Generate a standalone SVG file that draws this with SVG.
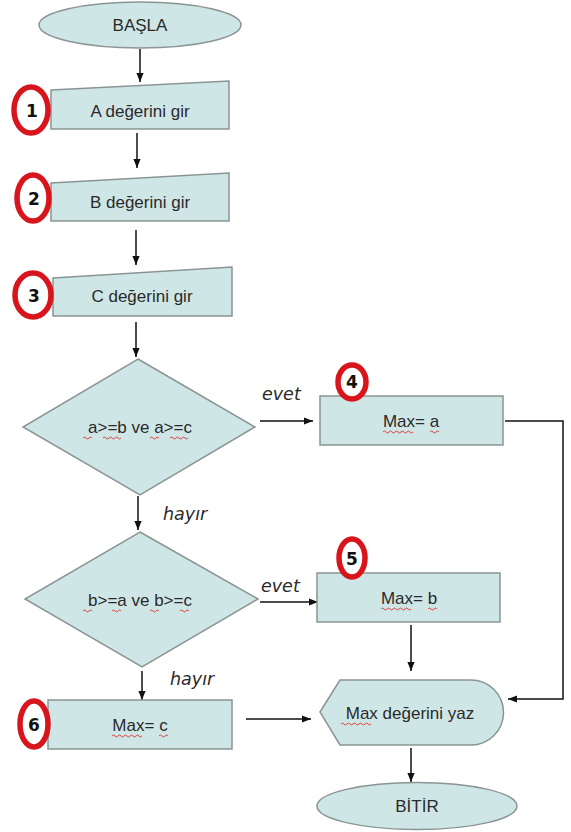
<svg xmlns="http://www.w3.org/2000/svg" width="571" height="832" viewBox="0 0 571 832">
<defs>
<marker id="ah" viewBox="0 0 10 10" refX="10" refY="5" markerWidth="9" markerHeight="9" markerUnits="userSpaceOnUse" orient="auto"><path d="M0,1 L10,5 L0,9 Z" fill="#111"/></marker>
<style>
.s{fill:#cfe6e6;stroke:#8a9494;stroke-width:1.5}
.t{font-family:"Liberation Sans",Arial,sans-serif;font-size:17px;fill:#2a2a2a;text-anchor:middle;dominant-baseline:central}
.l{font-family:"DejaVu Sans",sans-serif;font-size:17.5px;font-style:italic;fill:#2a2a2a}
.c{fill:#fff;stroke:#d8141c;stroke-width:5.5}
.n{font-family:"DejaVu Sans",sans-serif;font-weight:bold;font-size:17px;fill:#111;text-anchor:middle;dominant-baseline:central}
.e{fill:none;stroke:#111;stroke-width:1.5}
.w{fill:none;stroke:#e03030;stroke-width:0.9}
</style>
</defs>
<rect width="571" height="832" fill="#fff"/>
<g id="connectors">
<path class="e" d="M140,49 L140,82" marker-end="url(#ah)"/>
<path class="e" d="M137,133 L137,168" marker-end="url(#ah)"/>
<path class="e" d="M136,230 L136,265" marker-end="url(#ah)"/>
<path class="e" d="M136,322 L136,357" marker-end="url(#ah)"/>
<path class="e" d="M260,421 L313,421" marker-end="url(#ah)"/>
<path class="e" d="M138,496 L138,530" marker-end="url(#ah)"/>
<path class="e" d="M260,602 L318,602" marker-end="url(#ah)"/>
<path class="e" d="M142,671 L142,700" marker-end="url(#ah)"/>
<path class="e" d="M505,421 L563,421 L563,699 L508,699" marker-end="url(#ah)"/>
<path class="e" d="M411,625 L411,671" marker-end="url(#ah)"/>
<path class="e" d="M246,719 L311,719" marker-end="url(#ah)"/>
<path class="e" d="M411,748 L411,782" marker-end="url(#ah)"/>
<text class="l" x="262" y="400">evet</text>
<text class="l" x="163" y="520">hayır</text>
<text class="l" x="261" y="592">evet</text>
<text class="l" x="170" y="685">hayır</text>
</g>
<g id="start">
<ellipse class="s" cx="140" cy="25" rx="101" ry="23"/>
<text class="t" x="140" y="25">BAŞLA</text>
</g>
<g id="input-a">
<path class="s" d="M51,90 L229,81 L229,129 L51,129 Z"/>
<text class="t" x="140" y="111">A değerini gir</text>
</g>
<g id="input-b">
<path class="s" d="M51,183 L229,173 L229,221 L51,221 Z"/>
<text class="t" x="140" y="202">B değerini gir</text>
</g>
<g id="input-c">
<path class="s" d="M53,278 L232,267 L232,316 L53,316 Z"/>
<text class="t" x="142" y="296">C değerini gir</text>
</g>
<g id="decision-a">
<path class="s" d="M138,359 L255,427 L140,495 L23,427 Z"/>
<text class="t" x="140" y="427">a&gt;=b ve a&gt;=c</text>
<path class="w" d="M83,438 q1.5,-2 3,0 t3,0 t3,0"/>
<path class="w" d="M103,438 q1.5,-2 3,0 t3,0 t3,0 t3,0 t3,0 t3,0"/>
<path class="w" d="M150,438 q1.5,-2 3,0 t3,0 t3,0"/>
<path class="w" d="M170,438 q1.5,-2 3,0 t3,0 t3,0 t3,0 t3,0 t3,0"/>
</g>
<g id="max-a">
<rect class="s" x="320" y="396" width="183" height="49"/>
<text class="t" x="411" y="421">Max= a</text>
<path class="w" d="M383,432 q1.5,-2 3,0 t3,0 t3,0 t3,0 t3,0 t3,0 t3,0 t3,0 t3,0 t3,0"/>
<path class="w" d="M430,432 q1.5,-2 3,0 t3,0 t3,0"/>
</g>
<g id="decision-b">
<path class="s" d="M140,532 L258,599 L142,667 L25,599 Z"/>
<text class="t" x="140" y="600">b&gt;=a ve b&gt;=c</text>
<path class="w" d="M83,611 q1.5,-2 3,0 t3,0 t3,0"/>
<path class="w" d="M112,611 q1.5,-2 3,0 t3,0 t3,0"/>
<path class="w" d="M150,611 q1.5,-2 3,0 t3,0 t3,0"/>
<path class="w" d="M180,611 q1.5,-2 3,0 t3,0 t3,0"/>
</g>
<g id="max-b">
<rect class="s" x="317" y="573" width="183" height="49"/>
<text class="t" x="409" y="598">Max= b</text>
<path class="w" d="M381,609 q1.5,-2 3,0 t3,0 t3,0 t3,0 t3,0 t3,0 t3,0 t3,0 t3,0 t3,0"/>
<path class="w" d="M428,609 q1.5,-2 3,0 t3,0 t3,0"/>
</g>
<g id="max-c">
<rect class="s" x="48" y="700" width="184" height="49"/>
<text class="t" x="140" y="725">Max= c</text>
<path class="w" d="M112,736 q1.5,-2 3,0 t3,0 t3,0 t3,0 t3,0 t3,0 t3,0 t3,0 t3,0 t3,0"/>
<path class="w" d="M159,736 q1.5,-2 3,0 t3,0 t3,0"/>
</g>
<g id="output">
<path class="s" d="M320,712 L340,680 L471,680 A32.5,32.5 0 0 1 471,745 L340,745 Z"/>
<text class="t" x="410" y="713">Max değerini yaz</text>
<path class="w" d="M341,724 q1.5,-2 3,0 t3,0 t3,0 t3,0 t3,0 t3,0 t3,0 t3,0 t3,0 t3,0"/>
</g>
<g id="end">
<ellipse class="s" cx="417" cy="806" rx="100" ry="23.5"/>
<text class="t" x="417" y="806">BİTİR</text>
</g>
<g id="badge-1"><ellipse class="c" cx="31" cy="110" rx="17" ry="23"/><text class="n" x="32" y="111">1</text></g>
<g id="badge-2"><ellipse class="c" cx="33" cy="198" rx="16" ry="23"/><text class="n" x="34" y="199">2</text></g>
<g id="badge-3"><ellipse class="c" cx="33" cy="295" rx="18" ry="22"/><text class="n" x="34" y="296">3</text></g>
<g id="badge-4"><ellipse class="c" cx="352" cy="382" rx="14" ry="17"/><text class="n" x="352" y="382">4</text></g>
<g id="badge-5"><ellipse class="c" cx="352" cy="558" rx="13" ry="19"/><text class="n" x="352" y="559">5</text></g>
<g id="badge-6"><ellipse class="c" cx="34" cy="724" rx="14" ry="23"/><text class="n" x="34" y="725">6</text></g>
</svg>
